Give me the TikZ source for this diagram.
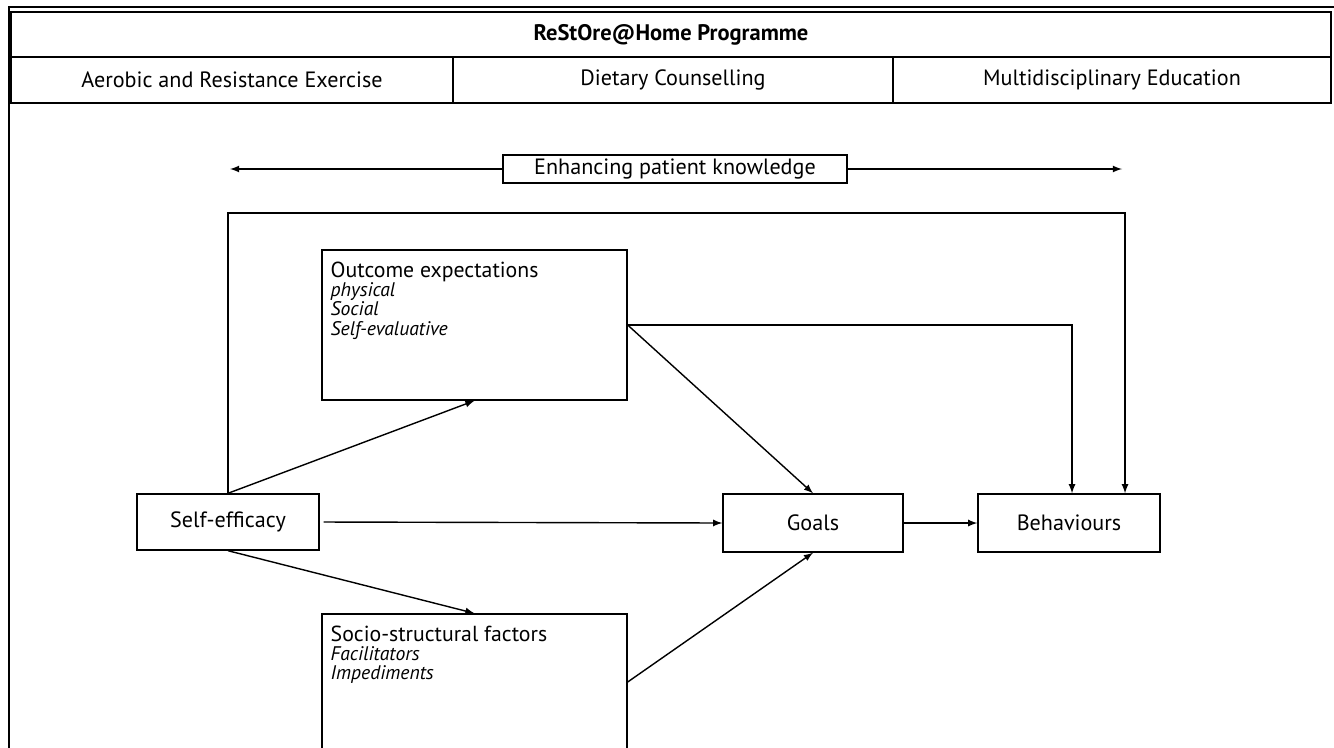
\documentclass[tikz,border=0pt]{standalone}
\usepackage{fontspec}
\setmainfont{PT Sans}
\usetikzlibrary{arrows,calc,positioning}
\newcommand{\itemfont}{\fontsize{11.2}{11}\selectfont\itshape}

\begin{document}
\begin{tikzpicture}[x=0.02cm,y=-0.02cm, line width=0.8pt,
    box/.style={shape=rectangle, draw=black, inner sep=0pt, font=\fontsize{12.6}{13}\selectfont},
    cell/.style={box, minimum height=0.92cm},
    inner/.style={anchor=north west, align=left, inner sep=0pt, font=\fontsize{12.4}{11}\selectfont},
    arr/.style={-latex}]
\clip (0,0) rectangle (1334,747);

% Khung
\draw[line width=1.1pt] (9,800) -- (9,7) -- (1400,7);
\node[box, minimum width=26.4cm, minimum height=0.9cm, font=\fontsize{12.8}{14}\selectfont\bfseries] (prog) at (671,34.5) {ReStOre@Home Programme};
\node[cell, minimum width=8.84cm] (ex) at (232,80) {Aerobic and Resistance Exercise};
\node[cell, minimum width=8.8cm] (diet) at (673,80) {Dietary Counselling};
\node[cell, minimum width=8.76cm] (edu) at (1112,80) {Multidisciplinary Education};

% Đỉnh
\node[box, minimum width=6.88cm, minimum height=0.56cm] (know) at (675,169) {Enhancing patient knowledge};
\coordinate (kl) at (230,169);
\coordinate (kr) at (1122,169);

\node[box, minimum width=6.1cm, minimum height=3cm] (oe) at (474.5,325) {};
\node[inner] (oetxt) at (330,261)
  {Outcome expectations\\
   \itemfont physical\\ \itemfont Social\\ \itemfont Self-evaluative};

\node[box, minimum width=3.64cm, minimum height=1.12cm] (se) at (228,522) {Self-efficacy};
\node[box, minimum width=3.6cm, minimum height=1.16cm] (goals) at (813,523) {Goals};
\node[box, minimum width=3.64cm, minimum height=1.16cm] (beh) at (1069,523) {Behaviours};

\node[box, minimum width=6.1cm, minimum height=2.72cm] (ssf) at (474.5,682) {};
\node[inner] (ssftxt) at (330,625)
  {Socio-structural factors\\
   \itemfont Facilitators\\ \itemfont Impediments};

\coordinate (top) at (1125,213);

% Cạnh
\draw[arr] (know.west) -- (kl);
\draw[arr] (know.east) -- (kr);
\draw[arr] (se.north) |- (top) -- (top |- beh.north);
\draw[arr] (se.north) -- (oe.south);
\draw[arr, shorten <=0.08cm] (se.east) -- (goals.west);
\draw[arr] (se.south) -- (ssf.north);
\draw[arr] (oe.east) -- (goals.north);
\draw[arr] (oe.east) -| ([xshift=0.06cm]beh.north);
\draw[arr] (ssf.east) -- (goals.south);
\draw[arr] (goals.east) -- (beh.west);
\end{tikzpicture}
\end{document}
